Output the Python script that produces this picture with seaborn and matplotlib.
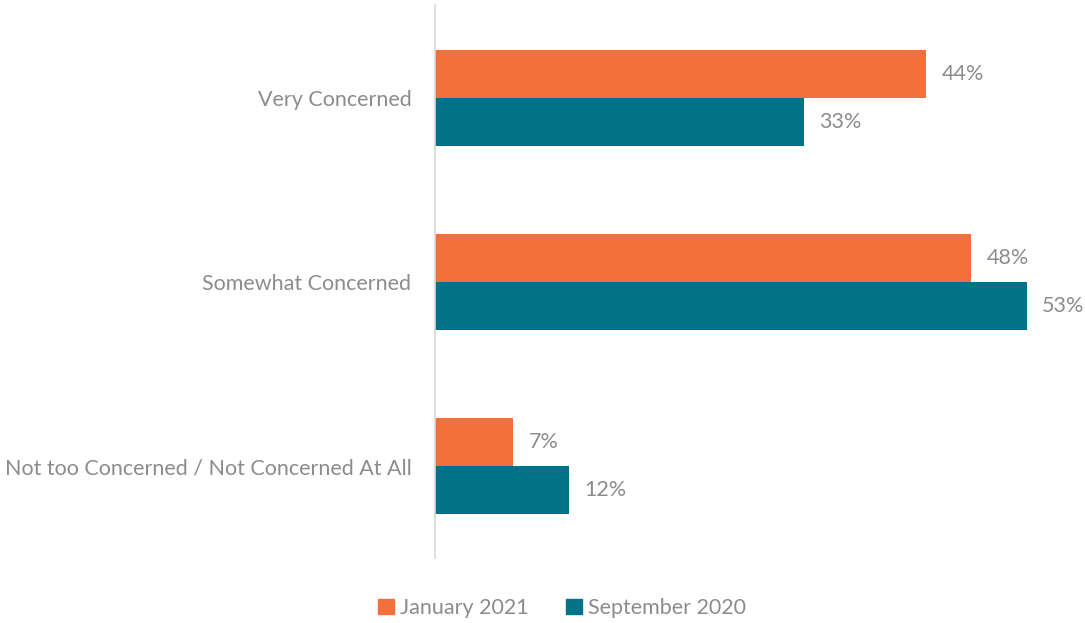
import pandas as pd
import seaborn as sns
from matplotlib import pyplot as plt
from matplotlib.patches import Patch

categories = ["Very Concerned", "Somewhat Concerned", "Not too Concerned / Not Concerned At All"]
series = ["January 2021", "September 2020"]
jan_2021 = [44, 48, 7]
sep_2020 = [33, 53, 12]
colors = ["#F3703D", "#007388"]
grey = "#8c8c8c"

df = pd.DataFrame({
    "Category": categories * 2,
    "Value": jan_2021 + sep_2020,
    "Series": [series[0]] * 3 + [series[1]] * 3,
})

sns.set_style("white")
plt.rcParams['font.family'] = ['Lato', 'DejaVu Sans']

fig = plt.figure(figsize=(10.85, 6.23), dpi=100)
ax = fig.add_axes([0.401, 0.104, 0.599, 0.888])
sns.barplot(data=df, y="Category", x="Value", hue="Series", palette=colors,
            orient="h", width=0.52, ax=ax, legend=False, saturation=1, linewidth=0)

for cont in ax.containers:
    ax.bar_label(cont, labels=[f"{v:.0f}%" for v in cont.datavalues],
                 padding=11, color=grey, fontsize=15.5)

ax.set_xlim(0, 58.2)
ax.set_ylim(2.5, -0.505)
ax.set_xlabel("")
ax.set_ylabel("")
ax.set_xticks([])
ax.tick_params(axis="y", length=0, pad=17, labelsize=15.5, labelcolor=grey)
for s in ["top", "right", "bottom"]:
    ax.spines[s].set_visible(False)
ax.spines["left"].set_color("#d9d9d9")
ax.spines["left"].set_linewidth(1.2)

handles = [Patch(color=c, label=s) for c, s in zip(colors, series)]
leg = fig.legend(handles=handles, loc="center", bbox_to_anchor=(0.518, 0.024), ncol=2,
                 frameon=False, handlelength=0.75, handleheight=0.75, handletextpad=0.3,
                 columnspacing=1.7, fontsize=15.5)
for t in leg.get_texts():
    t.set_color(grey)

fig.savefig("out.png", dpi=100)
